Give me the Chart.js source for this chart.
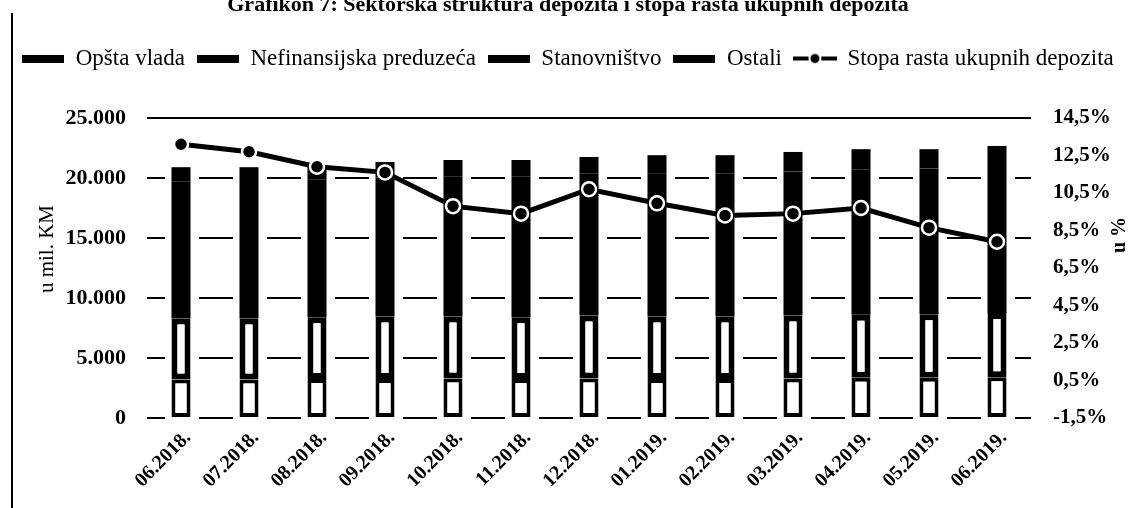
<!DOCTYPE html>
<html>
<head>
<meta charset="utf-8">
<script src="https://cdn.jsdelivr.net/npm/chart.js@4.4.1/dist/chart.umd.min.js"></script>
<style>
  html, body { margin: 0; padding: 0; background: #fff; }
  #wrap { position: relative; width: 1136px; height: 508px; overflow: hidden; background: #fff; }
  #title { position: absolute; left: 0; top: -7px; width: 1136px; text-align: center;
           font: bold 22px "Liberation Serif", "Times New Roman", serif; line-height: 22px; color: #000; }
  #frame { position: absolute; left: 11px; top: 13px; width: 2px; bottom: 0; background: #000; }
  .axt { position: absolute; width: 200px; height: 26px; line-height: 26px; text-align: center;
         color: #000; font-family: "Liberation Serif", "Times New Roman", serif;
         transform: rotate(-90deg); white-space: nowrap; }
  #ytl { left: -54px; top: 236px; font-size: 21px; }
  #ytr { left: 1018px; top: 222px; font-size: 20px; font-weight: bold; }
  canvas { position: absolute; left: 0; top: 0; }
</style>
</head>
<body>
<div id="wrap">
  <canvas id="c" width="1136" height="508"></canvas>
  <div id="title">Grafikon 7: Sektorska struktura depozita i stopa rasta ukupnih depozita</div>
  <div id="frame"></div>
  <div class="axt" id="ytl">u mil. KM</div>
  <div class="axt" id="ytr">u %</div>
</div>
<script>
// ---- data ----
const categories = ['06.2018.', '07.2018.', '08.2018.', '09.2018.', '10.2018.', '11.2018.', '12.2018.',
                    '01.2019.', '02.2019.', '03.2019.', '04.2019.', '05.2019.', '06.2019.'];
const opstaVlada       = [3200, 3200, 3250, 3250, 3300, 3250, 3300, 3250, 3250, 3300, 3350, 3350, 3400];
const nefinansijska    = [5100, 5100, 5150, 5200, 5150, 5150, 5250, 5200, 5200, 5250, 5250, 5300, 5350];
const stanovnistvo     = [11400, 11450, 11500, 11600, 11700, 11750, 11850, 11900, 11950, 12000, 12100, 12150, 12250];
const ostali           = [1200, 1150, 1100, 1280, 1350, 1350, 1350, 1550, 1500, 1620, 1700, 1600, 1670];
const stopaRasta       = [13.1, 12.7, 11.9, 11.6, 9.8, 9.4, 10.7, 9.95, 9.3, 9.4, 9.7, 8.65, 7.9];
const leftTickValues   = [0, 5000, 10000, 15000, 20000, 25000];
const rightTickValues  = [-1.5, 0.5, 2.5, 4.5, 6.5, 8.5, 10.5, 12.5, 14.5];
const seriesNames      = ['Opšta vlada', 'Nefinansijska preduzeća', 'Stanovništvo', 'Ostali', 'Stopa rasta ukupnih depozita'];

// ---- legend symbols ----
function boxImg() {
  const c = document.createElement('canvas'); c.width = 42; c.height = 8;
  const g = c.getContext('2d'); g.fillStyle = '#000'; g.fillRect(0, 0, 42, 8); return c;
}
function lineImg() {
  const c = document.createElement('canvas'); c.width = 44; c.height = 16;
  const g = c.getContext('2d');
  g.strokeStyle = '#000'; g.lineWidth = 4; g.beginPath(); g.moveTo(0, 8); g.lineTo(44, 8); g.stroke();
  g.beginPath(); g.arc(22, 8, 5.5, 0, Math.PI * 2); g.fillStyle = '#000'; g.fill();
  g.lineWidth = 2; g.strokeStyle = '#fff'; g.stroke();
  return c;
}
const BOX = boxImg(), LINE = lineImg();

const fmtThousands = v => String(v).replace(/\B(?=(\d{3})+(?!\d))/g, '.');
const fmtPct = v => v.toFixed(1).replace('.', ',') + '%';

const serif = '"Liberation Serif", "Times New Roman", serif';

const chart = new Chart(document.getElementById('c'), {
  data: {
    labels: categories,
    datasets: [
      { type: 'bar', label: seriesNames[0], data: opstaVlada, backgroundColor: '#fff', borderColor: '#000',
        borderWidth: 4, borderSkipped: false, yAxisID: 'y', order: 1 },
      { type: 'bar', label: seriesNames[1], data: nefinansijska, backgroundColor: '#fff', borderColor: '#000',
        borderWidth: 6, borderSkipped: false, yAxisID: 'y', order: 1 },
      { type: 'bar', label: seriesNames[2], data: stanovnistvo, backgroundColor: '#000', borderWidth: 0,
        yAxisID: 'y', order: 1 },
      { type: 'bar', label: seriesNames[3], data: ostali, backgroundColor: '#000', borderWidth: 0,
        yAxisID: 'y', order: 1 },
      { type: 'line', label: seriesNames[4], data: stopaRasta, yAxisID: 'y1', order: 0,
        borderColor: '#000', borderWidth: 5, tension: 0, fill: false,
        pointRadius: 7, pointBackgroundColor: '#000', pointBorderColor: '#fff', pointBorderWidth: 2.5,
        pointHoverRadius: 7 }
    ]
  },
  options: {
    responsive: false,
    devicePixelRatio: 1,
    animation: false,
    events: [],
    layout: { padding: { top: 35, left: 0, right: 0, bottom: 0 } },
    datasets: { bar: { barPercentage: 0.28, categoryPercentage: 1.0 } },
    plugins: {
      tooltip: { enabled: false },
      title: { display: false },
      subtitle: { display: true, text: ' ', weight: 0, font: { size: 1 }, padding: { top: 0, bottom: 30 } },
      legend: {
        position: 'top',
        labels: {
          usePointStyle: true, pointStyleWidth: 42, padding: 12, color: '#000',
          font: { family: serif, size: 23 },
          generateLabels: (ch) => ch.data.datasets.map((ds, i) => ({
            text: ds.label, fillStyle: '#000', strokeStyle: '#000', lineWidth: 0,
            pointStyle: i === 4 ? LINE : BOX, datasetIndex: i, hidden: false, fontColor: '#000'
          }))
        }
      }
    },
    scales: {
      x: {
        stacked: true,
        grid: { display: false },
        border: { display: false },
        ticks: { color: '#000', font: { family: serif, size: 20, weight: 'bold' },
                 minRotation: 45, maxRotation: 45, padding: 0, labelOffset: 7, autoSkip: false },
        afterFit: s => { s.height = 90; }
      },
      y: {
        stacked: true, position: 'left', min: 0, max: 25000,
        afterBuildTicks: s => { s.ticks = leftTickValues.map(v => ({ value: v })); },
        ticks: { color: '#000', font: { family: serif, size: 22, weight: 'bold' }, padding: 21,
                 callback: v => fmtThousands(v) },
        grid: { color: '#000', lineWidth: 2, drawTicks: false },
        border: { display: false,
                  dash: ctx => (ctx.tick && ctx.tick.value === 25000) ? [] : [34, 34],
                  dashOffset: 16 },
        title: { display: false },
        afterFit: s => { s.width = 147; }
      },
      y1: {
        position: 'right', min: -1.5, max: 14.5,
        afterBuildTicks: s => { s.ticks = rightTickValues.map(v => ({ value: v })); },
        ticks: { color: '#000', font: { family: serif, size: 21, weight: 'bold' }, padding: 14,
                 callback: v => fmtPct(v) },
        grid: { display: false, drawOnChartArea: false },
        border: { display: false },
        title: { display: false },
        afterFit: s => { s.width = 105; }
      }
    }
  }
});

// pin the plot area top to the reference position
const wantTop = 118;
const diff = wantTop - chart.chartArea.top;
if (Math.abs(diff) > 0.5) {
  chart.options.plugins.subtitle.padding.bottom = Math.max(0, 30 + diff);
  chart.update();
}
</script>
</body>
</html>
